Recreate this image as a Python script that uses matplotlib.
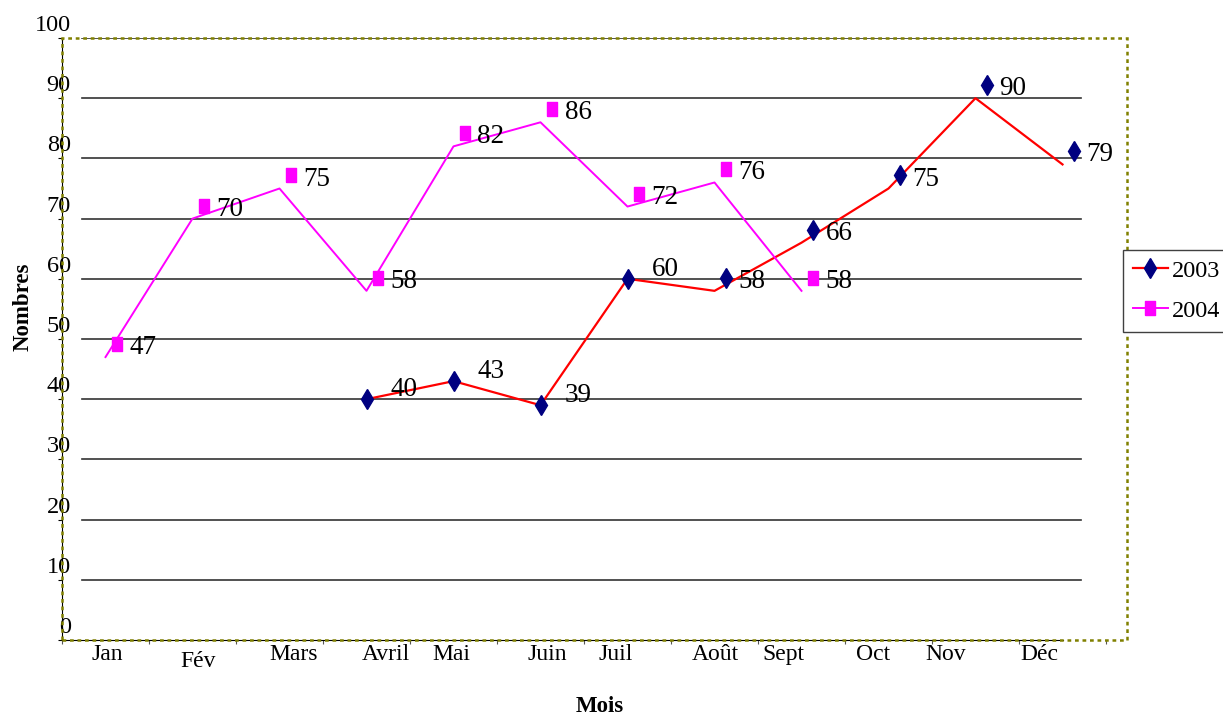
import matplotlib
matplotlib.use("Agg")
import matplotlib.pyplot as plt
import numpy as np
from matplotlib.lines import Line2D
from matplotlib.patches import Rectangle
from matplotlib.transforms import offset_copy, ScaledTranslation

plt.rcParams['font.family'] = ['Liberation Serif', 'DejaVu Serif']

months = ['Jan', 'Fév', 'Mars', 'Avril', 'Mai', 'Juin', 'Juil', 'Août', 'Sept', 'Oct', 'Nov', 'Déc']
nombres_2003 = [None, None, None, 40, 43, 39, 60, 58, 66, 75, 90, 79]
nombres_2004 = [47, 70, 75, 58, 82, 86, 72, 76, 58, None, None, None]
# in the original export some markers sit off their line point
decale_2003 = [False] * 7 + [True] * 5
decale_2004 = [True] * 9 + [False] * 3
# month labels are not centred on their categories in the original
label_pos = [0.02, 1.07, 2.16, 3.22, 3.98, 5.08, 5.86, 7.01, 7.79, 8.82, 9.66, 10.73]
yticks = list(range(0, 101, 10))

RED = '#FF0000'
MAGENTA = '#FF00FF'
NAVY = '#000080'
OLIVE = '#808000'
rect_marker = [(-0.35, -0.5), (0.35, -0.5), (0.35, 0.5), (-0.35, 0.5), (-0.35, -0.5)]


def main():
    fig = plt.figure(figsize=(12.23, 7.18), dpi=100)
    ax = fig.add_axes([62 / 1223, 78 / 718, 1065 / 1223, 602 / 718])
    ax.set_xlim(-0.5, -0.5 + 1065 / 87)
    ax.set_ylim(0, 100)

    x = np.arange(len(months))
    y03 = np.array(nombres_2003, dtype=float)
    y04 = np.array(nombres_2004, dtype=float)

    # horizontal grid, shifted right like in the source
    for yv in yticks[1:]:
        ax.plot([0.0188, 0.957], [yv, yv], color='#333333', lw=1.2,
                transform=ax.get_yaxis_transform(), zorder=1)

    ax.plot(x, y03, color=RED, lw=1.6, zorder=3)
    ax.plot(x, y04, color=MAGENTA, lw=1.4, zorder=3)

    shifted = offset_copy(ax.transData, fig=fig, x=11, y=13, units='dots')
    series = [
        (y03, np.array(decale_2003), 'd', NAVY, 10.5),
        (y04, np.array(decale_2004), rect_marker, MAGENTA, 10),
    ]
    for vals, dec, mk, col, ms in series:
        ax.plot(x[~dec], vals[~dec], ls='none', marker=mk, color=col, ms=ms, zorder=4)
        ax.plot(x[dec], vals[dec], ls='none', marker=mk, color=col, ms=ms, zorder=4,
                transform=shifted)

    txt_tr = offset_copy(ax.transData, fig=fig, x=24, y=3, units='dots')
    for vals in (y03, y04):
        for i, v in enumerate(vals):
            if not np.isnan(v):
                ax.text(i, v, f'{v:g}', transform=txt_tr, ha='left', va='baseline',
                        fontsize=19.5, zorder=5)

    # axes frame
    ax.spines['top'].set_visible(False)
    ax.spines['right'].set_visible(False)
    ax.spines['left'].set_color('black')
    ax.spines['bottom'].set_color('black')
    ax.spines['bottom'].set_bounds(-0.5, 11.0)
    ax.add_patch(Rectangle((0, 0), 1, 1, transform=ax.transAxes, fill=False,
                           ec=OLIVE, ls=(0, (1.5, 1.5)), lw=1.8, clip_on=False, zorder=6))

    ax.set_yticks(yticks)
    ax.set_yticklabels([str(t) for t in yticks])
    ax.tick_params(axis='y', direction='out', length=3, width=0.8, pad=0, labelsize=17.5)
    for lab in ax.get_yticklabels():
        lab.set_transform(lab.get_transform() + ScaledTranslation(0.13, 0.15, fig.dpi_scale_trans))

    ax.set_xticks(label_pos)
    ax.set_xticklabels(months)
    ax.set_xticks(np.arange(-0.5, 12, 1), minor=True)
    ax.tick_params(axis='x', which='major', length=0, pad=3.2, labelsize=17)
    ax.tick_params(axis='x', which='minor', direction='out', length=3, width=0.8, color='#555555')
    fev = ax.get_xticklabels()[1]
    fev.set_transform(fev.get_transform() + ScaledTranslation(0, -0.07, fig.dpi_scale_trans))

    ax.set_xlabel('Mois', fontsize=16.5, fontweight='bold', va='center')
    ax.xaxis.set_label_coords(0.505, -0.111)
    ax.set_ylabel('Nombres', fontsize=16.5, fontweight='bold', va='center', ha='center')
    ax.yaxis.set_label_coords(-0.0366, 0.553)

    handles = [
        Line2D([], [], color=RED, lw=1.6, marker='d', mfc=NAVY, mec=NAVY, ms=10.5),
        Line2D([], [], color=MAGENTA, lw=1.4, marker=rect_marker, mfc=MAGENTA, mec=MAGENTA, ms=10),
    ]
    fig.legend(handles, ['2003', '2004'], loc='upper left',
               bbox_to_anchor=(1123 / 1223, 1 - 250 / 718), frameon=True, fancybox=False,
               edgecolor='#404040', framealpha=1, fontsize=17.5, handlelength=1.45,
               handletextpad=0.15, labelspacing=0.75, borderpad=0.4, borderaxespad=0)

    fig.savefig('out.png', dpi=100)


if __name__ == "__main__":
    main()
